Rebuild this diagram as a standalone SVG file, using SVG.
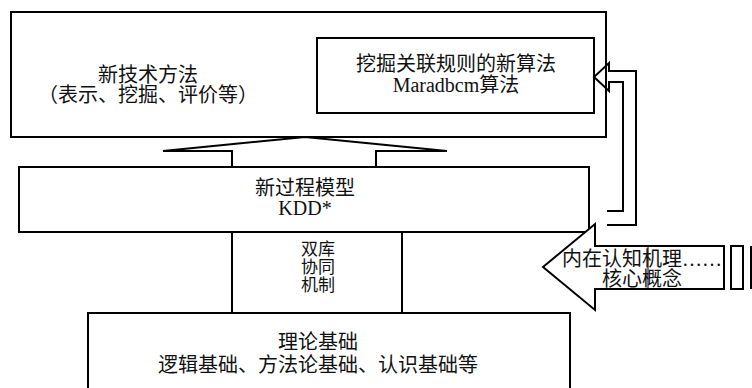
<svg xmlns="http://www.w3.org/2000/svg" width="752" height="388" viewBox="0 0 752 388">
<style>
.box{fill:#fff;stroke:#000;stroke-width:2}
.ln{fill:none;stroke:#000;stroke-width:2}
.t{font-family:'Liberation Serif','Noto Sans CJK SC',serif;font-size:20px;fill:#111;text-anchor:middle}
.sm{font-size:17px}
</style>
<rect width="752" height="388" fill="#fff"/>
<g id="tech">
<rect class="box" x="11" y="12" width="595" height="125"/>
<text class="t" x="148" y="82">新技术方法</text>
<text class="t" x="148" y="102">（表示、挖掘、评价等）</text>
</g>
<g id="algo">
<rect class="box" x="317" y="38" width="277" height="75"/>
<text class="t" x="456" y="71">挖掘关联规则的新算法</text>
<text class="t" x="456" y="92">Maradbcm算法</text>
</g>
<g id="process">
<rect class="box" x="19" y="167" width="570" height="65"/>
<text class="t" x="305" y="195">新过程模型</text>
<text class="t" x="305" y="215">KDD*</text>
</g>
<g id="coop">
<rect class="box" x="232" y="232" width="170" height="81"/>
<text class="t sm" x="318" y="255">双库</text>
<text class="t sm" x="318" y="273">协同</text>
<text class="t sm" x="318" y="291">机制</text>
</g>
<g id="theory">
<rect class="box" x="88" y="313" width="482" height="85"/>
<text class="t" x="318" y="349">理论基础</text>
<text class="t" x="318" y="372">逻辑基础、方法论基础、认识基础等</text>
</g>
<g id="cognition">
<polygon class="box" points="724,246 595,246 595,224 543,267 595,310 595,289 724,289"/>
<line x1="648" y1="246" x2="648" y2="289" stroke="#000" stroke-width="1"/>
<rect class="box" x="731" y="246" width="12" height="43"/>
<line class="ln" x1="751" y1="246" x2="751" y2="289"/>
<text class="t" x="642" y="266">内在认知机理……</text>
<text class="t" x="642" y="286">核心概念</text>
</g>
<g id="connectors">
<polygon class="box" stroke-width="1.6" points="232,167 232,151 163,151 305,137 447,151 376,151 376,167"/>
<polyline class="ln" points="607,225 636,225 636,71 609,71 609,63 594,77 609,91 609,82 623,82 623,211 607,211"/>
</g>
</svg>
